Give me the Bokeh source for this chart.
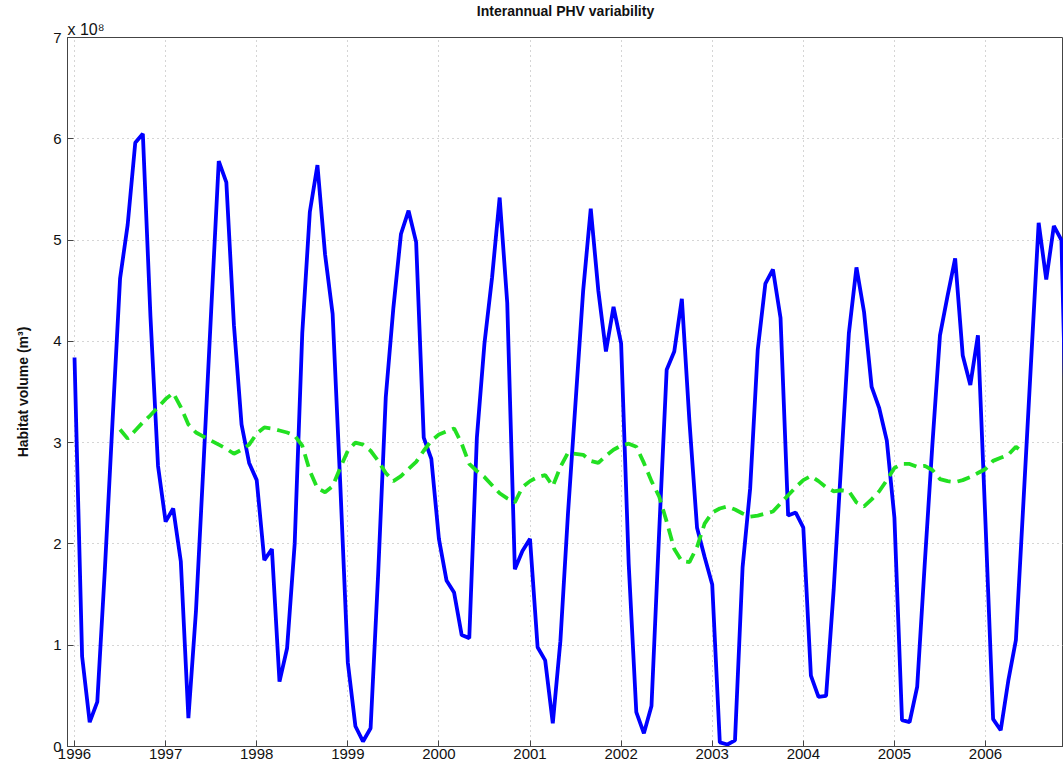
from bokeh.plotting import figure
from bokeh.models import ColumnDataSource, FixedTicker, Range1d, Title
from bokeh.embed import file_html
from bokeh.resources import INLINE
import numpy as np

# Monthly habitat volume (units of 1e8 m^3), Jan 1996 .. Dec 2006
start_year = 1996
phv_monthly = [
    3.84, 0.89, 0.24, 0.44, 1.75, 3.20, 4.62, 5.15, 5.96, 6.05, 4.25, 2.77,
    2.22, 2.35, 1.83, 0.28, 1.34, 2.80, 4.30, 5.78, 5.57, 4.16, 3.18, 2.80,
    2.63, 1.84, 1.95, 0.64, 0.97, 2.00, 4.08, 5.28, 5.74, 4.86, 4.27, 2.60,
    0.83, 0.20, 0.05, 0.18, 1.71, 3.45, 4.33, 5.06, 5.29, 4.98, 3.05, 2.84,
    2.05, 1.64, 1.52, 1.10, 1.07, 3.05, 3.98, 4.63, 5.42, 4.38, 1.75, 1.93,
    2.05, 0.98, 0.85, 0.23, 1.04, 2.30, 3.40, 4.50, 5.31, 4.50, 3.90, 4.34,
    3.98, 1.80, 0.34, 0.13, 0.40, 2.10, 3.72, 3.90, 4.42, 3.21, 2.16, 1.87,
    1.60, 0.04, 0.02, 0.06, 1.77, 2.55, 3.92, 4.57, 4.71, 4.23, 2.28, 2.31,
    2.16, 0.70, 0.49, 0.50, 1.55, 2.81, 4.08, 4.73, 4.29, 3.55, 3.34, 3.02,
    2.26, 0.26, 0.24, 0.59, 1.81, 2.98, 4.06, 4.45, 4.82, 3.86, 3.57, 4.06,
    2.20, 0.27, 0.16, 0.65, 1.05, 2.42, 3.80, 5.17, 4.61, 5.14, 5.00, 2.00,
]

# 12-month running mean (Jul 1996 .. Jun 2006)
mean_first_month = 6
phv_running_mean = [
    3.13, 3.04, 3.12, 3.20, 3.27, 3.35,
    3.43, 3.49, 3.35, 3.18, 3.10, 3.06, 3.02, 2.98, 2.94, 2.89, 2.93, 2.98,
    3.09, 3.15, 3.14, 3.12, 3.10, 3.07, 2.97, 2.72, 2.55, 2.51, 2.57, 2.75,
    2.92, 3.00, 2.98, 2.92, 2.82, 2.70, 2.62, 2.67, 2.74, 2.81, 2.92, 3.02,
    3.08, 3.11, 3.14, 2.99, 2.79, 2.72, 2.66, 2.58, 2.50, 2.45, 2.41, 2.56,
    2.62, 2.66, 2.68, 2.57, 2.76, 2.90, 2.89, 2.88, 2.82, 2.80, 2.87, 2.93,
    2.97, 2.99, 2.96, 2.80, 2.62, 2.47, 2.22, 1.95, 1.83, 1.82, 1.97, 2.20,
    2.31, 2.35, 2.37, 2.34, 2.30, 2.27, 2.28, 2.30, 2.32, 2.40, 2.48, 2.56,
    2.63, 2.67, 2.62, 2.56, 2.52, 2.53, 2.52, 2.41, 2.37, 2.44, 2.52, 2.63,
    2.75, 2.79, 2.79, 2.76, 2.77, 2.73, 2.64, 2.62, 2.61, 2.63, 2.66, 2.70,
    2.74, 2.82, 2.85, 2.88, 2.96, 2.90,
]

year_ticks = list(range(1996, 2007))
y_ticks = [0, 1, 2, 3, 4, 5, 6, 7]

t_blue = start_year + np.arange(len(phv_monthly)) / 12.0
t_green = start_year + (mean_first_month + np.arange(len(phv_running_mean))) / 12.0

src_blue = ColumnDataSource(dict(t=t_blue, v=phv_monthly))
src_green = ColumnDataSource(dict(t=t_green, v=phv_running_mean))

FONT = "Liberation Sans"

p = figure(
    width=1063, height=771,
    x_range=Range1d(1995.923, 2006.856),
    y_range=Range1d(0, 7),
    output_backend="svg", toolbar_location=None,
    min_border_left=67, min_border_right=0,
    min_border_top=36, min_border_bottom=25,
)

# scale factor note, sits just above the frame at the left
scale_note = Title(text="x 10⁸", align="left", text_font=FONT,
                   text_font_size="16px", text_font_style="normal",
                   text_color="#111111", offset=0, standoff=0)
p.add_layout(scale_note, "above")

main_title = Title(text="Interannual PHV variability", align="center",
                   text_font=FONT, text_font_size="14px",
                   text_font_style="bold", text_color="#111111",
                   offset=0, standoff=0)
p.add_layout(main_title, "above")

p.outline_line_color = "#444444"
p.outline_line_width = 1
p.background_fill_color = "white"
p.border_fill_color = "white"

p.line("t", "v", source=src_blue, line_color="#0000ff", line_width=3.8)
p.line("t", "v", source=src_green, line_color="#22e022", line_width=3.8,
       line_dash="13 7")

for ax in (p.xaxis[0], p.yaxis[0]):
    ax.major_tick_in = 6
    ax.major_tick_out = 0
    ax.minor_tick_line_color = None
    ax.axis_line_color = "#444444"
    ax.major_tick_line_color = "#444444"
    ax.major_label_text_font = FONT
    ax.major_label_text_font_size = "15px"
    ax.major_label_text_color = "#111111"

p.xaxis[0].ticker = FixedTicker(ticks=year_ticks)
p.xaxis[0].major_label_standoff = 2
p.yaxis[0].ticker = FixedTicker(ticks=y_ticks)
p.yaxis[0].major_label_standoff = 6
p.yaxis[0].axis_label = "Habitat volume (m³)"
p.yaxis[0].axis_label_text_font = FONT
p.yaxis[0].axis_label_text_font_size = "14px"
p.yaxis[0].axis_label_text_font_style = "bold"
p.yaxis[0].axis_label_text_color = "#111111"
p.yaxis[0].axis_label_standoff = 19

p.grid.grid_line_color = "#aaaaaa"
p.grid.grid_line_dash = "1 4"
p.grid.grid_line_width = 1

open("out.html", "w").write(file_html(p, INLINE))
